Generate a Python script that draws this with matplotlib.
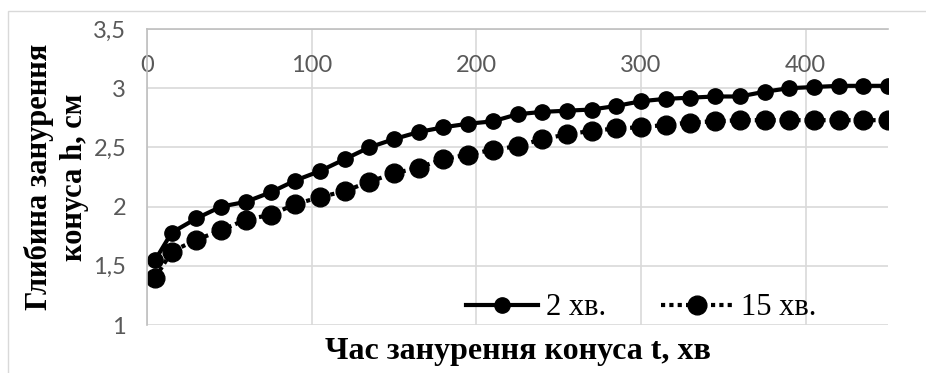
import numpy as np
import matplotlib
matplotlib.use("Agg")
import matplotlib.pyplot as plt
from matplotlib.patches import Rectangle

# time, min
t = [5, 15, 30, 45, 60, 75, 90, 105, 120, 135, 150, 165, 180, 195, 210, 225,
     240, 255, 270, 285, 300, 315, 330, 345, 360, 375, 390, 405, 420, 435, 450]

# cone depth, cm
h_2min = [1.55, 1.78, 1.90, 2.00, 2.04, 2.12, 2.22, 2.30, 2.40, 2.50, 2.57,
          2.63, 2.67, 2.70, 2.72, 2.78, 2.80, 2.81, 2.82, 2.85, 2.89, 2.91,
          2.92, 2.93, 2.93, 2.97, 3.00, 3.01, 3.02, 3.02, 3.02]
h_15min = [1.40, 1.62, 1.72, 1.80, 1.89, 1.93, 2.02, 2.08, 2.13, 2.21, 2.28,
           2.33, 2.40, 2.44, 2.48, 2.51, 2.57, 2.61, 2.64, 2.66, 2.67, 2.69,
           2.71, 2.72, 2.73, 2.73, 2.73, 2.73, 2.73, 2.73, 2.73]

labels = ["2 хв.", "15 хв."]
x_ticks = [0, 100, 200, 300, 400]
y_ticks = [1, 1.5, 2, 2.5, 3, 3.5]
y_tick_labels = ["1", "1,5", "2", "2,5", "3", "3,5"]

plt.rcParams["font.family"] = ["Lato", "DejaVu Sans"]
serif = ["Liberation Serif", "DejaVu Serif"]
grey = "#595959"

fig = plt.figure(figsize=(9.26, 3.73), dpi=100)
ax = fig.add_axes([147/926, 1 - 325/373, 741/926, 296/373])

ax.plot(t, h_2min, color="black", lw=3, marker="o", ms=11, label=labels[0])
ax.plot(t, h_15min, color="black", lw=3, linestyle=(0, (1, 1)), marker="o",
        ms=13.5, label=labels[1])

ax.set_xlim(0, 450)
ax.set_ylim(1, 3.5)
ax.set_xticks(x_ticks)
ax.set_yticks(y_ticks)
ax.set_yticklabels(y_tick_labels)
ax.grid(True, color="#d9d9d9", lw=1.2)
ax.set_axisbelow(True)

for s in ["right", "bottom"]:
    ax.spines[s].set_visible(False)
for s in ["top", "left"]:
    ax.spines[s].set_color("#bfbfbf")
    ax.spines[s].set_linewidth(1.2)

ax.tick_params(axis="x", top=True, labeltop=True, bottom=False, labelbottom=False,
               length=0, pad=-34, labelcolor=grey, labelsize=17)
ax.tick_params(axis="y", length=0, pad=15, labelcolor=grey, labelsize=17)

ax.set_xlabel("Час занурення конуса t, хв", family=serif, fontsize=23,
              fontweight="bold", labelpad=9)
ax.set_ylabel("Глибина занурення\nконуса h, см", family=serif, fontsize=22,
              fontweight="bold", labelpad=3, linespacing=1.25)

leg = ax.legend(loc="center", bbox_to_anchor=(0.667, 0.058), ncol=2, frameon=False,
                prop={"family": serif, "size": 22}, handlelength=2.35,
                handletextpad=0.26, columnspacing=1.8, borderaxespad=0)

fig.add_artist(Rectangle((8/926, -0.1), 1.5, 0.1 + 1 - 11/373, transform=fig.transFigure,
                         fill=False, edgecolor="#d9d9d9", lw=1, clip_on=False))

fig.savefig("out.png", dpi=100)
